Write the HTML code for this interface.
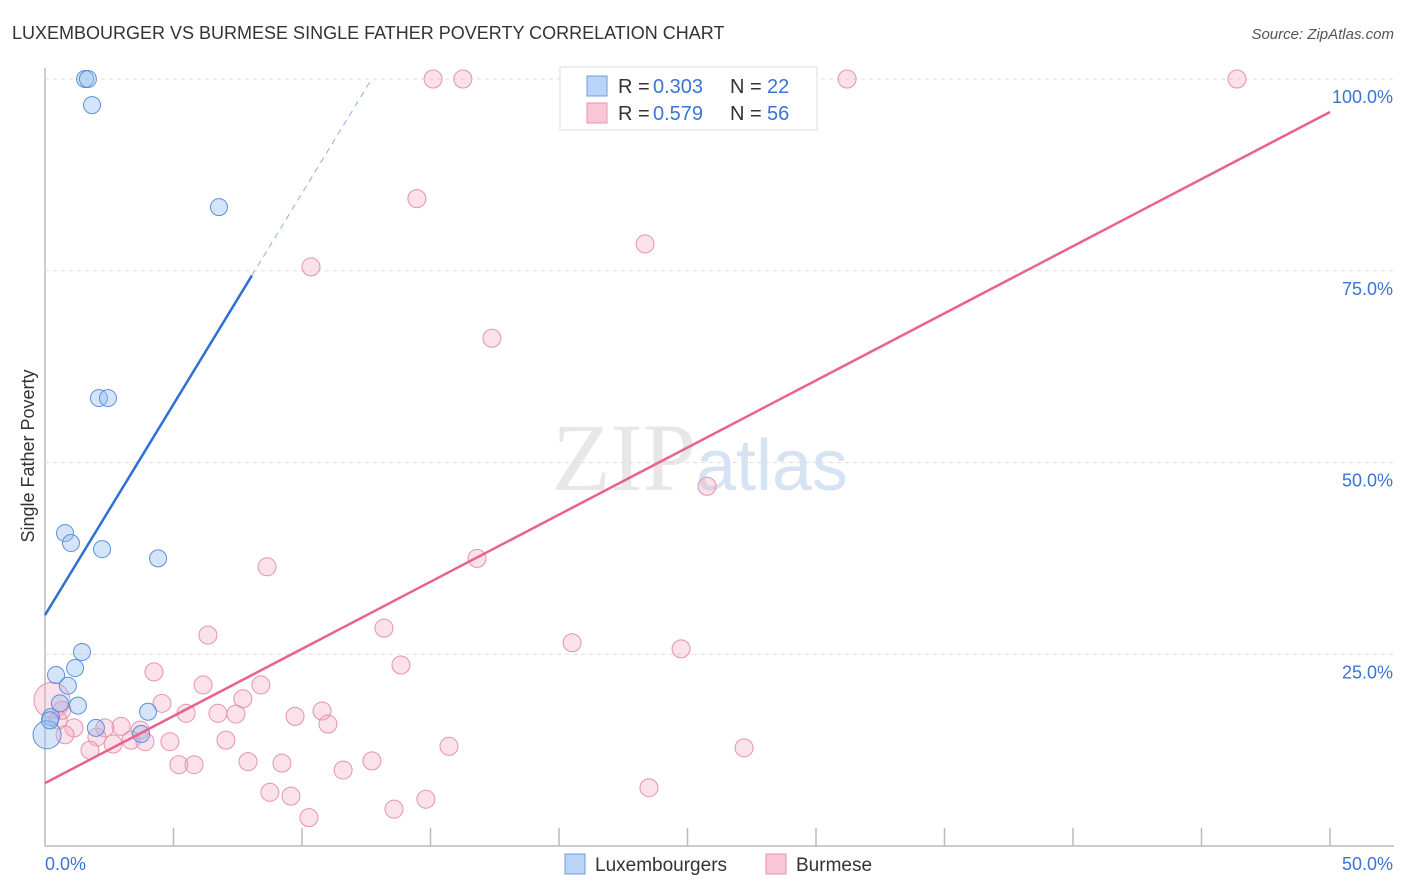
<!DOCTYPE html>
<html><head><meta charset="utf-8"><style>
body{margin:0;background:#fff;font-family:"Liberation Sans",sans-serif;}
svg{display:block}
</style></head><body>
<svg width="1406" height="892" xmlns="http://www.w3.org/2000/svg" id="c">
<text x="12" y="39" font-size="18" fill="#333">LUXEMBOURGER VS BURMESE SINGLE FATHER POVERTY CORRELATION CHART</text>
<text x="1394" y="39" font-size="15" fill="#555" text-anchor="end" font-style="italic">Source: ZipAtlas.com</text>
<text transform="translate(34,456) rotate(-90)" font-size="18" fill="#333" text-anchor="middle">Single Father Poverty</text>
<text x="720" y="490" font-size="96" text-anchor="middle" fill="#ddd" font-family="Liberation Serif" opacity="0.7" transform="translate(-20,0)">ZIP<tspan fill="#c5d8ee" font-family="Liberation Sans" font-size="72">atlas</tspan></text>
<g id="grid"></g><g id="pts"></g><g id="lines"></g>
<g>
<rect x="560" y="67" width="257" height="63" fill="#fff" stroke="#ddd"/>
<rect x="587" y="76" width="20" height="20" fill="#b9d4f5" stroke="#6d9de0"/>
<rect x="587" y="103" width="20" height="20" fill="#f9c6d6" stroke="#e693ad"/>
<text x="618" y="93" font-size="20" fill="#333">R =</text><text x="653" y="93" font-size="20" fill="#3a74d4">0.303</text>
<text x="730" y="93" font-size="20" fill="#333">N =</text><text x="767" y="93" font-size="20" fill="#3a74d4">22</text>
<text x="618" y="120" font-size="20" fill="#333">R =</text><text x="653" y="120" font-size="20" fill="#3a74d4">0.579</text>
<text x="730" y="120" font-size="20" fill="#333">N =</text><text x="767" y="120" font-size="20" fill="#3a74d4">56</text>
</g>
<g>
<rect x="565" y="854" width="20" height="20" fill="#b9d4f5" stroke="#6d9de0"/>
<text x="595" y="871" font-size="19" fill="#333">Luxembourgers</text>
<rect x="766" y="854" width="20" height="20" fill="#f9c6d6" stroke="#e693ad"/>
<text x="796" y="871" font-size="19" fill="#333">Burmese</text>
</g>
</svg>
<script>
const xTicks=[0,5,10,15,20,25,30,35,40,45,50];
const yTicks=[25,50,75,100];
const yTickLabels=["25.0%","50.0%","75.0%","100.0%"];
const xTickLabels=["0.0%","50.0%"];
const luxX=[1.56,1.67,1.83,6.77,2.10,2.45,0.78,1.01,2.22,4.40,1.44,0.43,1.17,0.89,1.28,0.58,0.23,1.98,4.01,3.74,0.08,0.19];
const luxY=[100,100,96.6,83.3,58.4,58.4,40.8,39.5,38.7,37.5,25.3,22.3,23.2,20.9,18.3,18.6,16.8,15.4,17.5,14.6,14.5,16.4];
const burX=[15.10,16.26,31.21,46.38,14.47,23.35,10.35,17.39,25.76,16.81,8.64,13.19,20.51,6.34,24.75,13.85,4.24,6.15,8.40,4.55,7.70,5.49,6.73,7.43,9.73,10.78,11.01,2.96,2.33,1.13,3.70,0.78,2.02,2.65,3.35,3.89,4.86,7.04,15.72,27.20,1.75,5.21,5.80,7.90,9.22,12.72,11.60,8.75,9.57,23.50,14.82,13.58,10.27,0.27,0.51,0.66];
const burY=[100,100,100,100,84.4,78.5,75.5,66.2,46.9,37.5,36.4,28.4,26.5,27.5,25.7,23.6,22.7,21.0,21.0,18.6,19.2,17.3,17.3,17.2,16.9,17.6,15.9,15.6,15.4,15.4,15.1,14.5,14.2,13.3,13.8,13.6,13.6,13.8,13.0,12.8,12.5,10.6,10.6,11.0,10.8,11.1,9.9,7.0,6.5,7.6,6.1,4.8,3.7,19.0,16.4,17.7];
const luxTrend=[30.1,5.5];
const burTrend=[8.2,1.75];
const X=v=>45+v*25.7, Y=v=>846-v*7.67;
const NS="http://www.w3.org/2000/svg";
function mk(t,a,p){const e=document.createElementNS(NS,t);for(const k in a)e.setAttribute(k,a[k]);p.appendChild(e);return e;}
const g=document.getElementById('grid');
let ax=mk('line',{x1:45,y1:68,x2:45,y2:846,stroke:'#bbb','stroke-width':1.5},g);


let bx=mk('line',{x1:45,y1:846,x2:1394,y2:846,stroke:'#bbb','stroke-width':1.5},g);


yTicks.forEach((t,i)=>{
 let l=mk('line',{x1:45,x2:1394,y1:Y(t),y2:Y(t),stroke:'#ddd','stroke-dasharray':'4,4'},g);
 
 
 let tx=mk('text',{x:1393,y:Y(t)+24,'font-size':18,fill:'#3a74d4','text-anchor':'end'},g);
 tx.textContent=yTickLabels[i];
 
 
});
xTicks.forEach(t=>{
 if(t===0)return;
 let l=mk('line',{x1:X(t),x2:X(t),y1:828,y2:846,stroke:'#bbb','stroke-width':1.5},g);
 
 
});
let x0=mk('text',{x:45,y:870,'font-size':18,fill:'#3a74d4'},g);x0.textContent=xTickLabels[0];


let x1=mk('text',{x:1393,y:870,'font-size':18,fill:'#3a74d4','text-anchor':'end'},g);x1.textContent=xTickLabels[1];


const p=document.getElementById('pts');
burX.forEach((v,i)=>{
 let c=mk('circle',{cx:X(v),cy:Y(burY[i]),r:i==53?18:9,fill:'rgba(244,170,195,0.35)',stroke:'#e693ad','stroke-width':1},p);
 
 
});
luxX.forEach((v,i)=>{
 let c=mk('circle',{cx:X(v),cy:Y(luxY[i]),r:i==20?14:8.5,fill:'rgba(150,190,240,0.4)',stroke:'#5a8fdc','stroke-width':1},p);
 
 
});
const L=document.getElementById('lines');
let bt=mk('line',{x1:X(0),y1:Y(burTrend[0]),x2:X(50),y2:Y(burTrend[0]+burTrend[1]*50),stroke:'#e8628c','stroke-width':2.5},L);


const xs=8.05, xe=(100-luxTrend[0])/luxTrend[1];
let lt=mk('line',{x1:X(0),y1:Y(luxTrend[0]),x2:X(xs),y2:Y(luxTrend[0]+luxTrend[1]*xs),stroke:'#2f6fd6','stroke-width':2.5},L);


let ld=mk('line',{x1:X(xs),y1:Y(luxTrend[0]+luxTrend[1]*xs),x2:X(xe),y2:Y(100),stroke:'#8aaee0','stroke-width':1,'stroke-dasharray':'6,5'},L);


</script>
</body></html>
